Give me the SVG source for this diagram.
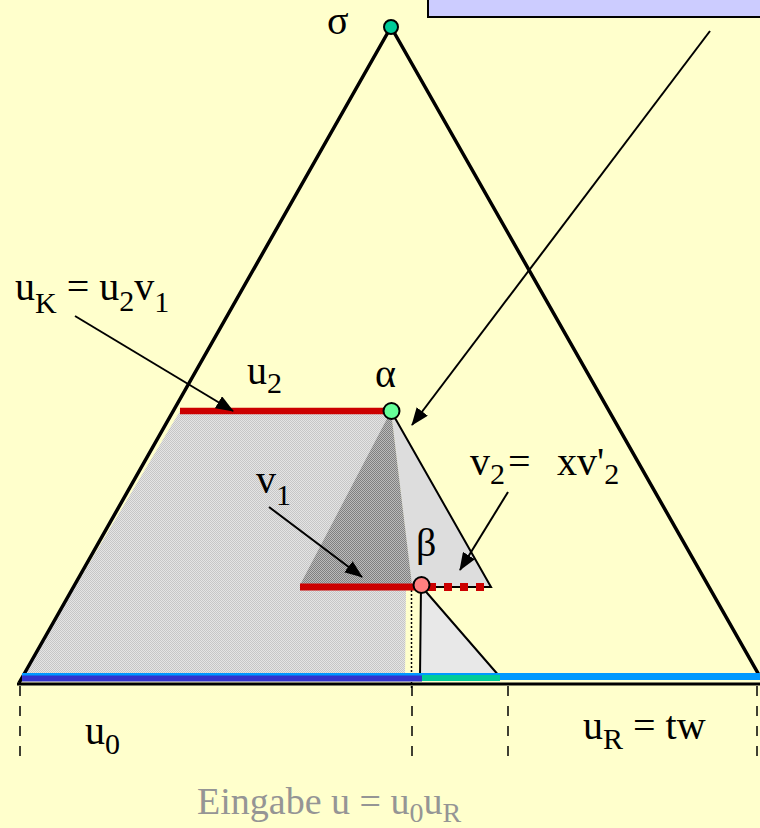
<svg xmlns="http://www.w3.org/2000/svg" width="760" height="828" viewBox="0 0 760 828">
<style>
.t{font-family:"Liberation Serif","Times New Roman",serif;font-size:40px;fill:#000}
.s{font-size:30px}
.g{fill:#959595;font-size:38px}
.gs{font-size:28px}
.arr{stroke:#000;stroke-width:2;fill:none;marker-end:url(#ah)}
.bar{fill:none;stroke-linecap:butt}
</style>
<defs>
<marker id="ah" markerUnits="userSpaceOnUse" markerWidth="18" markerHeight="14" refX="17" refY="7" orient="auto">
<path d="M0,0 L18,7 L0,14 z" fill="#000"/>
</marker>
<pattern id="lt" width="2" height="2" patternUnits="userSpaceOnUse">
<rect width="2" height="2" fill="#E4E4E4"/>
<rect width="1" height="1" fill="#C6C6C6"/>
<rect x="1" y="1" width="1" height="1" fill="#C6C6C6"/>
</pattern>
<pattern id="dk" width="2" height="2" patternUnits="userSpaceOnUse">
<rect width="2" height="2" fill="#BBBBBB"/>
<rect width="1" height="1" fill="#808080"/>
<rect x="1" y="1" width="1" height="1" fill="#808080"/>
</pattern>
</defs>
<rect width="760" height="828" fill="#FFFFCC"/>
<g id="box"><rect x="428" y="-4" width="340" height="21" fill="#CCCCFF" stroke="#000" stroke-width="2"/></g>
<g id="regions">
<polygon points="180,411 391,411 406,590 405,676 22,676" fill="url(#lt)"/>
<polygon points="391,411 491,587 412,587" fill="#DDDDDD"/>
<polygon points="391,411 300,585 412,585" fill="url(#dk)"/>
<polygon points="420,586 420,677 500,677" fill="#E8E8E8"/>
</g>
<g id="tree">
<polyline points="19,683 391,27 763,682" fill="none" stroke="#000" stroke-width="3.5" stroke-linejoin="miter"/>
<polyline points="391,411 491,587 421,587" fill="none" stroke="#000" stroke-width="2"/>
<polyline points="500,677 421,586 420,677" fill="none" stroke="#000" stroke-width="2"/>
<line x1="411.5" y1="590" x2="411.5" y2="690" stroke="#000" stroke-width="1.5" stroke-dasharray="2 2"/>
</g>
<g id="input">
<line class="bar" x1="22" y1="676.5" x2="760" y2="676.5" stroke="#0099FF" stroke-width="7"/>
<line class="bar" x1="22" y1="678.5" x2="422" y2="678.5" stroke="#3333CC" stroke-width="6"/>
<line class="bar" x1="422" y1="678" x2="500" y2="678" stroke="#00CC99" stroke-width="6"/>
<line x1="17" y1="684" x2="760" y2="684" stroke="#000" stroke-width="3"/>
<g stroke="#000" stroke-width="1.5" stroke-dasharray="10 10">
<line x1="20" y1="686" x2="20" y2="762"/>
<line x1="412" y1="686" x2="412" y2="762"/>
<line x1="508" y1="686" x2="508" y2="762"/>
<line x1="757" y1="686" x2="757" y2="762"/>
</g>
</g>
<g id="segments">
<line x1="180" y1="411" x2="391" y2="411" stroke="#CC0000" stroke-width="6.5"/>
<line x1="300" y1="587" x2="421" y2="587" stroke="#CC0000" stroke-width="7"/>
<line x1="428" y1="587" x2="486" y2="587" stroke="#CC0000" stroke-width="8" stroke-dasharray="8 8"/>
</g>
<g id="sigma"><circle cx="391" cy="27" r="7" fill="#00CC99" stroke="#000" stroke-width="2"/><text class="t" x="327" y="34">σ</text></g>
<g id="alpha"><circle cx="391.5" cy="411" r="8" fill="#66FF99" stroke="#000" stroke-width="2"/><text class="t" x="375" y="387">α</text></g>
<g id="beta"><circle cx="421.5" cy="585" r="8" fill="#FF8080" stroke="#000" stroke-width="2"/><text class="t" x="416" y="556">β</text></g>
<g id="connectors">
<line class="arr" x1="710" y1="31" x2="412" y2="425"/>
<line class="arr" x1="75" y1="316" x2="233" y2="411"/>
<line class="arr" x1="269" y1="507" x2="362" y2="577"/>
<line class="arr" x1="508" y1="492" x2="460" y2="570"/>
</g>
<g id="labels">
<text class="t" x="15" y="300">u<tspan class="s" dy="13">K</tspan><tspan dy="-13"> = u</tspan><tspan class="s" dy="11">2</tspan><tspan dy="-11">v</tspan><tspan class="s" dy="12">1</tspan></text>
<text class="t" x="247" y="384">u<tspan class="s" dy="9">2</tspan></text>
<text class="t" x="256" y="493">v<tspan class="s" dy="12">1</tspan></text>
<text class="t" x="470" y="475">v<tspan class="s" dy="9">2</tspan><tspan x="508" dy="-9">= </tspan><tspan x="557"> xv'</tspan><tspan class="s" dy="9">2</tspan></text>
<text class="t" x="85" y="744">u<tspan class="s" dy="10">0</tspan></text>
<text class="t" x="583" y="739">u<tspan class="s" dy="10">R</tspan><tspan dy="-10"> = tw</tspan></text>
<text class="t g" x="197" y="814">Eingabe u = u<tspan class="gs" dy="8">0</tspan><tspan dy="-8">u</tspan><tspan class="gs" dy="8">R</tspan></text>
</g>
</svg>
